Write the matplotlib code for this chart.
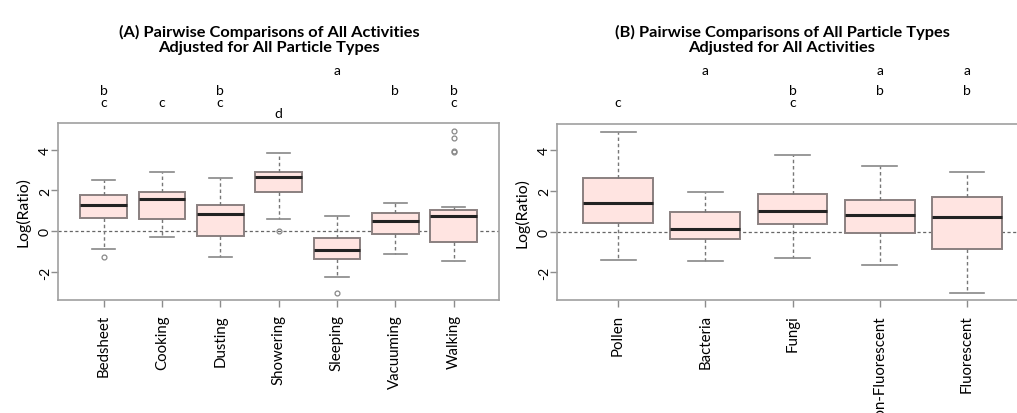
import numpy as np
import matplotlib.pyplot as plt
from matplotlib.transforms import blended_transform_factory

plt.rcParams['font.family'] = ['Lato', 'DejaVu Sans']

# (A) activities
activities = ["Bedsheet", "Cooking", "Dusting", "Showering", "Sleeping", "Vacuuming", "Walking"]
act_whislo = [-0.86, -0.28, -1.28, 0.60, -2.23, -1.09, -1.45]
act_q1 = [0.67, 0.59, -0.24, 1.92, -1.33, -0.11, -0.50]
act_med = [1.27, 1.58, 0.85, 2.67, -0.91, 0.52, 0.76]
act_q3 = [1.76, 1.93, 1.28, 2.88, -0.34, 0.91, 1.06]
act_whishi = [2.52, 2.88, 2.63, 3.82, 0.76, 1.38, 1.17]
act_fliers = [[-1.24], [], [], [0.0], [-3.0], [], [4.93, 4.57, 3.93, 3.90]]
act_letters = ["bc", "c", "bc", "d", "a", "b", "bc"]

# (B) particle types
particles = ["Pollen", "Bacteria", "Fungi", "Non-Fluorescent", "Fluorescent"]
part_whislo = [-1.37, -1.46, -1.28, -1.66, -3.02]
part_q1 = [0.42, -0.36, 0.39, -0.05, -0.85]
part_med = [1.40, 0.11, 1.01, 0.80, 0.73]
part_q3 = [2.65, 0.96, 1.87, 1.54, 1.69]
part_whishi = [4.91, 1.95, 3.77, 3.25, 2.94]
part_fliers = [[], [], [], [], []]
part_letters = ["c", "a", "bc", "ab", "ab"]

W, H = 1017, 414
fig = plt.figure(figsize=(W / 100, H / 100), dpi=100)

# baseline of each letter row, pixels from the top
letter_row = {"a": 75.0, "b": 95.0, "c": 107.0, "d": 118.0}
grey = "#8c8c8c"


def panel(rect, names, lo, q1, med, q3, hi, fliers, letters):
    ax = fig.add_axes(rect)
    n = len(names)
    stats = []
    for i in range(n):
        stats.append(dict(med=med[i], q1=q1[i], q3=q3[i], whislo=lo[i],
                          whishi=hi[i], fliers=fliers[i], label=names[i]))
    ax.bxp(stats, positions=np.arange(1, n + 1), widths=0.8, patch_artist=True,
           boxprops=dict(facecolor="#ffe4e1", edgecolor="#8a8080", linewidth=1.4),
           medianprops=dict(color="#222222", linewidth=2.2),
           whiskerprops=dict(color="#777777", linewidth=1.0, linestyle=(0, (2.5, 2))),
           capprops=dict(color="#888888", linewidth=1.2),
           flierprops=dict(marker="o", markersize=3.5, markerfacecolor="none",
                           markeredgecolor="#888888", markeredgewidth=0.9))
    ax.axhline(0, color="#666666", linewidth=0.9, linestyle=(0, (2.5, 2)), zorder=0)
    ext = 0.04 * n
    ax.set_xlim(0.5 - ext, n + 0.5 + ext)
    ax.set_ylim(-3.36, 5.30)
    ax.set_yticks([-2, 0, 2, 4])
    ax.set_yticklabels(["-2", "0", "2", "4"], rotation=90, va="center", fontsize=10)
    ax.set_xticks(np.arange(1, n + 1))
    ax.set_xticklabels(names, rotation=90, va="top", ha="center", fontsize=10.8)
    ax.tick_params(axis="both", color=grey, length=5, width=1)
    ax.tick_params(axis="y", pad=0)
    ax.tick_params(axis="x", pad=5)
    for s in ax.spines.values():
        s.set_color("#a0a0a0")
        s.set_linewidth(1.2)
    ax.set_ylabel("Log(Ratio)", fontsize=11.3, labelpad=6)
    tr = blended_transform_factory(ax.transData, fig.transFigure)
    for i, lets in enumerate(letters):
        for ch in lets:
            ax.text(i + 1, 1 - letter_row[ch] / H, ch, transform=tr,
                    ha="center", va="baseline", fontsize=10)
    return ax


panel([58 / W, 1 - 301 / H, 441 / W, 177 / H], activities, act_whislo, act_q1,
      act_med, act_q3, act_whishi, act_fliers, act_letters)
panel([557 / W, 1 - 301 / H, 471 / W, 176 / H], particles, part_whislo, part_q1,
      part_med, part_q3, part_whishi, part_fliers, part_letters)

fig.text(269 / W, 1 - 32 / H, "(A) Pairwise Comparisons of All Activities",
         ha="center", va="center", fontsize=11.8, fontweight="bold")
fig.text(269 / W, 1 - 48 / H, "Adjusted for All Particle Types",
         ha="center", va="center", fontsize=11.8, fontweight="bold")
fig.text(782 / W, 1 - 32 / H, "(B) Pairwise Comparisons of All Particle Types",
         ha="center", va="center", fontsize=11.8, fontweight="bold")
fig.text(782 / W, 1 - 48 / H, "Adjusted for All Activities",
         ha="center", va="center", fontsize=11.8, fontweight="bold")

fig.savefig("out.png", dpi=100)
